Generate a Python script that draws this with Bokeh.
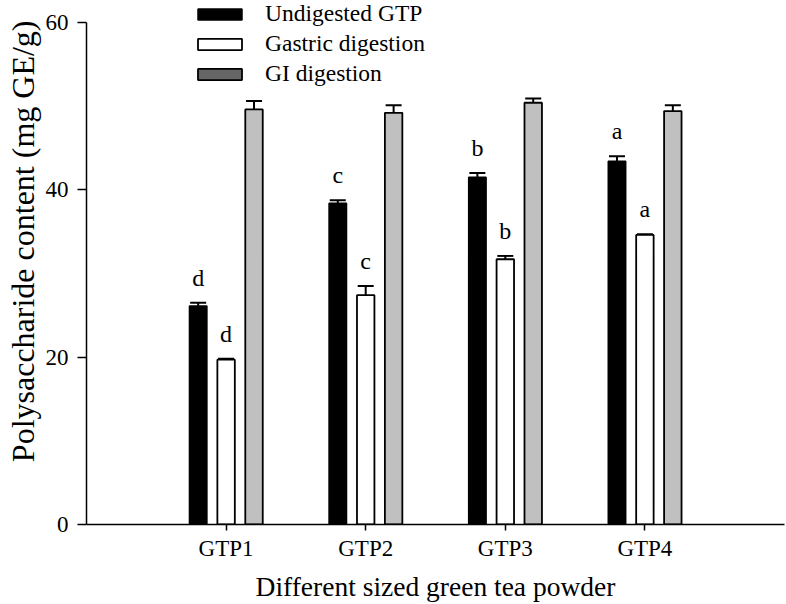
from bokeh.plotting import figure
from bokeh.models import (ColumnDataSource, Whisker, TeeHead, Legend, LegendItem,
                          FixedTicker, Range1d, Title)
from bokeh.transform import dodge
from bokeh.core.properties import value
from bokeh.embed import file_html
from bokeh.resources import INLINE

# ---- data ----
samples = ["GTP1", "GTP2", "GTP3", "GTP4"]
undigested = [26.1, 38.4, 41.5, 43.4]
undigested_err = [0.4, 0.35, 0.5, 0.6]
gastric = [19.7, 27.4, 31.7, 34.6]
gastric_err = [0.1, 1.1, 0.4, 0.1]
gi = [49.6, 49.2, 50.4, 49.4]
gi_err = [1.0, 0.9, 0.5, 0.7]
undigested_letters = ["d", "c", "b", "a"]
gastric_letters = ["d", "c", "b", "a"]
series_names = ["Undigested GTP", "Gastric digestion", "GI digestion"]
y_ticks = [0, 20, 40, 60]
x_title = "Different sized green tea powder"
y_title = "Polysaccharide content (mg GE/g)"

pos = list(range(1, len(samples) + 1))
src = ColumnDataSource(data=dict(
    x=pos,
    undigested=undigested,
    undigested_top=[v + e for v, e in zip(undigested, undigested_err)],
    gastric=gastric,
    gastric_top=[v + e for v, e in zip(gastric, gastric_err)],
    gi=gi,
    gi_top=[v + e for v, e in zip(gi, gi_err)],
    ul=undigested_letters,
    gl=gastric_letters,
))

FONT = "Liberation Serif"

# frame spans the full height above the x axis; the y axis line itself stops at 60
p = figure(width=785, height=604, x_range=Range1d(0, 5.0), y_range=Range1d(0, 62.62),
           output_backend="svg", toolbar_location=None, title=None,
           min_border_left=85, min_border_right=1, min_border_top=0, min_border_bottom=79)
p.outline_line_color = None
p.xgrid.visible = False
p.ygrid.visible = False
p.background_fill_color = "white"

offsets = [-0.2, 0.0, 0.2]
W = 0.125

r_u = p.vbar(x=dodge("x", offsets[0], range=p.x_range), top="undigested", width=W, source=src,
             fill_color="black", line_color="black", line_width=1.5)
r_g = p.vbar(x=dodge("x", offsets[1], range=p.x_range), top="gastric", width=W, source=src,
             fill_color="white", line_color="black", line_width=1.8)
r_i = p.vbar(x=dodge("x", offsets[2], range=p.x_range), top="gi", width=W, source=src,
             fill_color="#c0c0c0", line_color="black", line_width=1.8)

for off, lo, hi in [(offsets[0], "undigested", "undigested_top"),
                    (offsets[1], "gastric", "gastric_top"),
                    (offsets[2], "gi", "gi_top")]:
    w = Whisker(base=dodge("x", off, range=p.x_range), upper=hi, lower=lo, source=src,
                dimension="height", line_color="black", line_width=2,
                upper_head=TeeHead(size=16, line_width=2, line_color="black"),
                lower_head=None)
    p.add_layout(w)

for off, top, lab in [(offsets[0], "undigested_top", "ul"), (offsets[1], "gastric_top", "gl")]:
    p.text(x=dodge("x", off, range=p.x_range), y=top, text=lab, source=src,
           text_align="center", text_baseline="alphabetic", y_offset=-25,
           text_font=value(FONT), text_font_size="24px", text_color="black")

# hidden renderer that only supplies the darker GI swatch of the legend
r_leg = p.vbar(x=dodge("x", offsets[2], range=p.x_range), top="gi", width=W, source=src,
               fill_color="#666666", line_color="black", line_width=1.8)
r_leg.visible = False

legend = Legend(items=[LegendItem(label=series_names[0], renderers=[r_u]),
                       LegendItem(label=series_names[1], renderers=[r_g]),
                       LegendItem(label=series_names[2], renderers=[r_leg])],
                location=(106, 437), orientation="vertical",
                glyph_width=55, glyph_height=14, label_standoff=18, spacing=3,
                padding=0, margin=0, border_line_color=None, background_fill_alpha=0,
                label_text_font=FONT, label_text_font_size="23.5px", label_text_color="black")
p.add_layout(legend)

# axes
p.xaxis.ticker = FixedTicker(ticks=pos)
p.xaxis.major_label_overrides = {i: s for i, s in zip(pos, samples)}
p.yaxis.ticker = FixedTicker(ticks=y_ticks)
p.yaxis.bounds = (0, 60)
for ax in (p.xaxis, p.yaxis):
    ax.axis_line_color = "black"
    ax.axis_line_width = 1.5
    ax.major_tick_line_color = "black"
    ax.major_tick_line_width = 1.5
    ax.major_tick_in = 0
    ax.minor_tick_line_color = None
    ax.major_label_text_font = FONT
    ax.major_label_text_font_size = "23px"
    ax.major_label_text_color = "black"
    ax.axis_label_text_font = FONT
    ax.axis_label_text_font_style = "normal"
    ax.axis_label_text_color = "black"

p.xaxis.axis_label = x_title
p.xaxis.axis_label_text_font_size = "27.5px"
p.xaxis.major_tick_out = 6
p.xaxis.major_label_standoff = 5
p.xaxis.axis_label_standoff = 7

p.yaxis.major_tick_out = 9
p.yaxis.major_label_standoff = 9

# y-axis title as a side title so that it can sit a little above the frame centre
ytitle = Title(text=y_title, align="right", offset=20, standoff=4,
               text_font=FONT, text_font_size="32px", text_font_style="normal",
               text_color="black")
p.add_layout(ytitle, "left")

open("out.html", "w").write(file_html(p, INLINE))
